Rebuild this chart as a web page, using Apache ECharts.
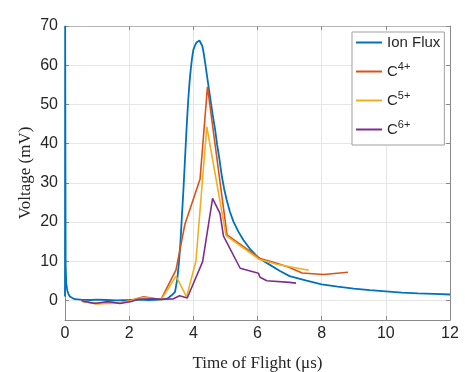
<!DOCTYPE html>
<html>
<head>
<meta charset="utf-8">
<script src="https://cdn.jsdelivr.net/npm/echarts@6/dist/echarts.min.js"></script>
<style>
html,body{margin:0;padding:0;background:#fff;}
#chart{width:465px;height:372px;}
</style>
</head>
<body>
<div id="chart"></div>
<script>
// ---- data ----
var xTicks = [0, 2, 4, 6, 8, 10, 12];
var yTicks = [0, 10, 20, 30, 40, 50, 60, 70];

var ionX = [0, 0.005, 0.02, 0.04, 0.07, 0.1, 0.15, 0.2, 0.3, 0.5, 0.8, 1.0, 1.3, 1.6, 2.0, 2.3, 2.6, 3.0, 3.2, 3.35, 3.43, 3.5, 3.55, 3.6, 3.64, 3.69, 3.74, 3.79, 3.84, 3.88, 3.92, 3.96, 4.0, 4.05, 4.1, 4.15, 4.19, 4.23, 4.28, 4.32, 4.37, 4.44, 4.52, 4.6, 4.68, 4.74, 4.81, 4.89, 4.96, 5.04, 5.14, 5.25, 5.4, 5.56, 5.75, 6.0, 6.2, 6.4, 6.7, 7.0, 7.5, 8.0, 8.5, 9.0, 9.5, 10.0, 10.5, 11.0, 11.5, 12.0];
var ionY = [1, 70, 9, 4.3, 2.6, 1.8, 1.0, 0.7, 0.3, 0.2, 0.1, 0.2, 0.1, 0.0, 0.1, 0.2, 0.1, 0.2, 0.5, 1.5, 2.2, 5.5, 9.5, 15, 21, 28, 36, 44, 51, 55.5, 59, 61.8, 63.9, 65.0, 65.8, 66.25, 66.3, 65.9, 64.9, 63.2, 60.5, 56.5, 52, 47.5, 43.5, 39.8, 36.2, 31.6, 28.5, 25.6, 22.6, 20.1, 17.6, 15.4, 13.3, 11.1, 10.0, 9.0, 7.5, 6.2, 5.1, 4.1, 3.5, 3.0, 2.6, 2.3, 2.0, 1.8, 1.65, 1.5];

var c4X = [0.55, 1.0, 1.35, 1.7, 2.05, 2.25, 2.45, 2.8, 3.0, 3.46, 3.74, 4.21, 4.44, 5.05, 6.08, 6.6, 7.0, 7.39, 8.06, 8.82];
var c4Y = [-0.3, -0.8, -0.4, -0.7, 0.0, 0.5, 0.9, 0.5, 0.3, 7.8, 19.5, 31.0, 54.5, 16.7, 10.7, 9.5, 8.4, 7.0, 6.6, 7.2];

var c5X = [0.55, 1.0, 1.35, 1.7, 2.05, 2.25, 2.45, 2.8, 3.0, 3.46, 3.79, 4.08, 4.42, 5.02, 6.05, 6.6, 7.0, 7.6];
var c5Y = [-0.3, -0.9, -0.8, -0.7, -0.1, 0.4, 0.7, 0.4, 0.2, 6.2, 0.9, 10.0, 44.3, 16.5, 10.5, 9.2, 8.6, 7.7];

var c6X = [0.51, 0.93, 1.34, 1.71, 2.07, 2.28, 2.8, 3.01, 3.38, 3.57, 3.81, 4.29, 4.6, 4.83, 4.94, 5.46, 6.03, 6.08, 6.29, 7.0, 7.2];
var c6Y = [-0.1, -0.8, -0.3, -0.8, -0.3, 0.3, 0.4, 0.3, 0.4, 1.2, 0.6, 9.9, 26.0, 22.2, 16.4, 8.2, 6.9, 5.9, 5.0, 4.6, 4.4];

var seriesNames = ['Ion Flux', 'C4+', 'C5+', 'C6+'];
var seriesColors = ['#0072BD', '#D95319', '#EDB120', '#7E2F8E'];

function pairs(xs, ys) { return xs.map(function (x, i) { return [x, ys[i]]; }); }
var allData = [pairs(ionX, ionY), pairs(c4X, c4Y), pairs(c5X, c5Y), pairs(c6X, c6Y)];

var axisGray = '#8a8a8a';
var labelColor = '#262626';
var sansFont = 'Liberation Sans';
var serifFont = 'Liberation Serif';

var chart = echarts.init(document.getElementById('chart'), null, {renderer: 'canvas'});

var baseX = {type: 'value', min: 0, max: 12, interval: 2};
var baseY = {type: 'value', min: -5, max: 70};

var option = {
  animation: false,
  backgroundColor: '#fff',
  grid: {left: 65, top: 26, right: 15, bottom: 52, show: false, containLabel: false, outerBoundsMode: 'none'},
  legend: {
    show: true,
    orient: 'vertical',
    left: 352, top: 32,
    padding: [3, 4, 8, 4],
    itemGap: 11,
    itemWidth: 26,
    itemHeight: 12,
    backgroundColor: '#fff',
    borderColor: '#a0a0a0',
    borderWidth: 1,
    data: seriesNames.map(function (n) { return {name: n, icon: 'path://M0,0 L26,0 L26,2 L0,2 Z'}; }),
    formatter: function (name) {
      if (name === 'Ion Flux') return '{b|Ion Flux}';
      return '{b|C}{sup|' + name.slice(1) + '}';
    },
    textStyle: {
      color: labelColor, fontFamily: sansFont, fontSize: 15,
      rich: {
        b: {fontSize: 15, fontFamily: sansFont, color: labelColor, lineHeight: 20},
        sup: {fontSize: 11, fontFamily: sansFont, color: labelColor, padding: [0, 0, 10, 0]}
      }
    }
  },
  xAxis: [
    Object.assign({}, baseX, {
      position: 'bottom',
      name: 'Time of Flight (\u03bcs)',
      nameLocation: 'middle',
      nameGap: 35,
      nameMoveOverlap: false,
      nameTextStyle: {fontFamily: serifFont, fontSize: 17, color: labelColor},
      axisLine: {show: true, onZero: false, lineStyle: {color: axisGray, width: 1}},
      axisTick: {show: true, inside: true, length: 4, lineStyle: {color: axisGray}},
      axisLabel: {show: true, margin: 6, fontFamily: sansFont, fontSize: 16, color: labelColor,
        customValues: xTicks},
      splitLine: {show: true, lineStyle: {color: '#e6e6e6', width: 1}}
    }),
    Object.assign({}, baseX, {
      position: 'top',
      axisLine: {show: true, onZero: false, lineStyle: {color: '#b5b5b5', width: 1}},
      axisTick: {show: true, inside: true, length: 4, lineStyle: {color: axisGray}},
      axisLabel: {show: false},
      splitLine: {show: false}
    })
  ],
  yAxis: [
    Object.assign({}, baseY, {
      position: 'left',
      name: 'Voltage (mV)',
      nameLocation: 'middle',
      nameGap: 31,
      nameMoveOverlap: false,
      nameTextStyle: {fontFamily: serifFont, fontSize: 17, color: labelColor},
      axisLine: {show: true, onZero: false, lineStyle: {color: axisGray, width: 1}},
      axisTick: {show: true, inside: true, length: 4, lineStyle: {color: axisGray}, customValues: yTicks},
      axisLabel: {show: true, margin: 7, fontFamily: sansFont, fontSize: 16, color: labelColor,
        customValues: yTicks},
      splitLine: {show: true, lineStyle: {color: '#e6e6e6', width: 1}}
    }),
    Object.assign({}, baseY, {
      position: 'right',
      axisLine: {show: true, onZero: false, lineStyle: {color: axisGray, width: 1}},
      axisTick: {show: true, inside: true, length: 4, lineStyle: {color: axisGray}, customValues: yTicks},
      axisLabel: {show: false, customValues: yTicks},
      splitLine: {show: false}
    })
  ],
  series: seriesNames.map(function (n, i) {
    return {
      name: n,
      type: 'line',
      xAxisIndex: 0,
      yAxisIndex: 0,
      data: allData[i],
      symbol: 'none',
      clip: true,
      lineStyle: {color: seriesColors[i], width: i === 0 ? 1.8 : 1.6},
      itemStyle: {color: seriesColors[i]},
      z: 2 + i
    };
  })
};
chart.setOption(option);
</script>
</body>
</html>
